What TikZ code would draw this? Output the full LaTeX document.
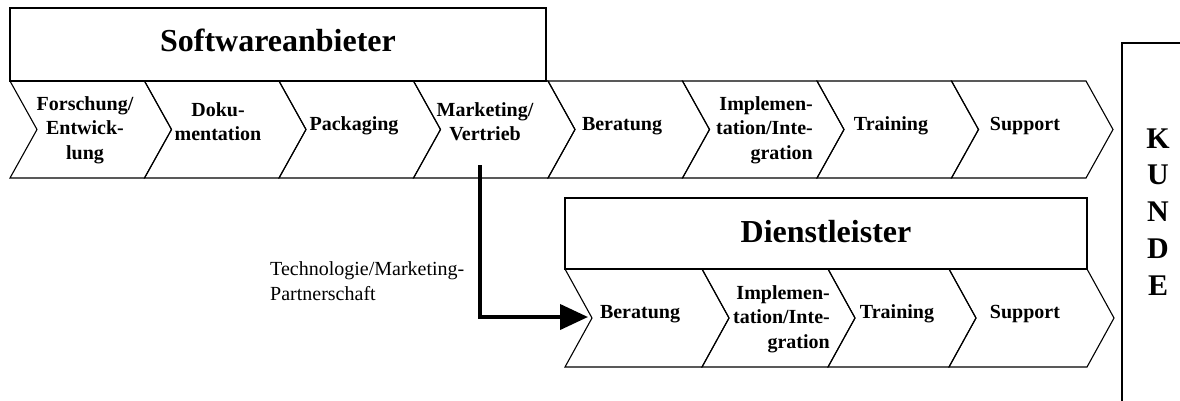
\documentclass[tikz,border=0pt]{standalone}
\usepackage{fontspec}
\setmainfont{Liberation Serif}
\usetikzlibrary{arrows.meta}
\newcommand\mychev[5]{%
  \draw[chev] (#1,#3) -- (#2,#3) -- ({#2+27},#4) -- (#2,#5) -- (#1,#5) -- ({#1+27},#4) -- cycle;}
\begin{document}
\begin{tikzpicture}[x=1pt,y=-1pt,
  frame/.style={draw,line width=1.1pt},
  chev/.style={draw,line width=1.1pt,line join=miter},
  lbl/.style={font=\fontsize{20}{24.5}\selectfont\bfseries,align=center,inner sep=0pt,anchor=base},
  rlbl/.style={font=\fontsize{20}{24.5}\selectfont\bfseries,align=right,inner sep=0pt,anchor=base east},
  title/.style={font=\fontsize{32}{38}\selectfont\bfseries,inner sep=0pt,anchor=base},
  note/.style={font=\fontsize{20}{25}\selectfont,align=left,inner sep=0pt,anchor=base west},
  link/.style={line width=4pt,-{Triangle[length=28pt,width=25pt]}}]
\useasboundingbox (0,0) rectangle (1180,400);
% Softwareanbieter
\draw[frame] (10,8) rectangle (546,81);
\node[title] (sw) at (278,51) {Softwareanbieter};
\foreach \i in {0,...,7}{%
  \pgfmathsetmacro\xa{10+134.5*\i}%
  \pgfmathsetmacro\xb{\xa+134.5}%
  \mychev{\xa}{\xb}{81}{129.5}{178}}
% (multi-line nodes: base = baseline of the last line)
\node[lbl] (t1) at (85,159) {Forschung/\\Entwick-\\lung};
\node[lbl] (t2) at (218,140.5) {Doku-\\mentation};
\node[lbl] (t3) at (354,130) {Packaging};
\node[lbl] (t4) at (485,140.5) {Marketing/\\Vertrieb};
\node[lbl] (t5) at (622,130) {Beratung};
\node[rlbl] (t6) at (813,159) {Implemen-\\tation/Inte-\\gration};
\node[lbl] (t7) at (891,130) {Training};
\node[lbl] (t8) at (1025,130) {Support};
% Dienstleister
\draw[frame] (565,198) rectangle (1087,269);
\node[title] (dl) at (826,242) {Dienstleister};
\foreach \xa/\xb in {565/702,702/828,828/949,949/1087}{\mychev{\xa}{\xb}{269}{318}{367}}
\node[lbl] (d1) at (640,318.5) {Beratung};
\node[rlbl] (d2) at (830,348) {Implemen-\\tation/Inte-\\gration};
\node[lbl] (d3) at (897,318.5) {Training};
\node[lbl] (d4) at (1025,318.5) {Support};
% Kunde
\draw[line width=1.5pt] (1122,420) -- (1122,43) -- (1200,43);
\node[font=\fontsize{30}{36.75}\selectfont\bfseries,align=center,inner sep=0pt,anchor=base] (kd) at (1158,295) {K\\U\\N\\D\\E};
% Partnerschaft
\node[note] (tm) at (270,300) {Technologie/Marketing-\\Partnerschaft};
\coordinate (src) at (480,165);
\coordinate (dst) at (588,317);
\draw[link] (src) |- (dst);
\end{tikzpicture}
\end{document}
